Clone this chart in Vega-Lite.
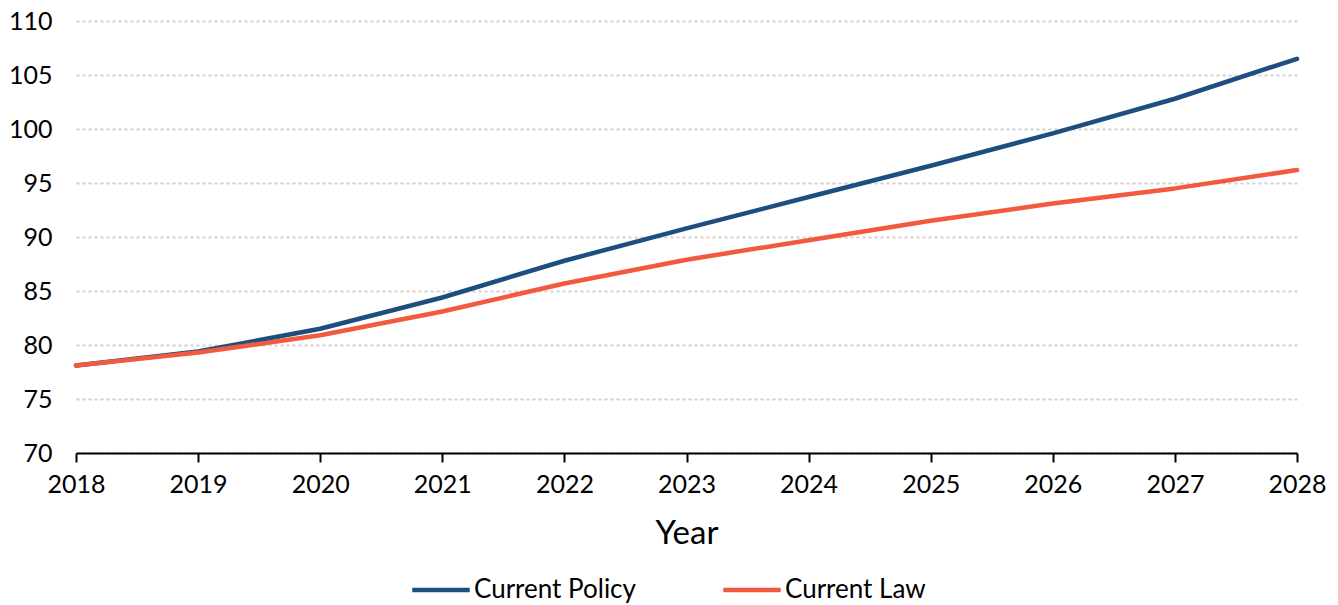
{
  "$schema": "https://vega.github.io/schema/vega-lite/v6.json",
  "autosize": {"type": "none"},
  "padding": {"left": 76, "top": 21, "right": 41, "bottom": 152},
  "width": 1221,
  "height": 432,
  "background": "white",
  "config": {
    "font": "Lato",
    "view": {"stroke": null}
  },
  "data": {
    "values": [
      {"year": 2018, "series": "Current Policy", "value": 78.1},
      {"year": 2019, "series": "Current Policy", "value": 79.4},
      {"year": 2020, "series": "Current Policy", "value": 81.5},
      {"year": 2021, "series": "Current Policy", "value": 84.4},
      {"year": 2022, "series": "Current Policy", "value": 87.8},
      {"year": 2023, "series": "Current Policy", "value": 90.8},
      {"year": 2024, "series": "Current Policy", "value": 93.7},
      {"year": 2025, "series": "Current Policy", "value": 96.6},
      {"year": 2026, "series": "Current Policy", "value": 99.6},
      {"year": 2027, "series": "Current Policy", "value": 102.8},
      {"year": 2028, "series": "Current Policy", "value": 106.5},
      {"year": 2018, "series": "Current Law", "value": 78.1},
      {"year": 2019, "series": "Current Law", "value": 79.3},
      {"year": 2020, "series": "Current Law", "value": 80.9},
      {"year": 2021, "series": "Current Law", "value": 83.1},
      {"year": 2022, "series": "Current Law", "value": 85.7},
      {"year": 2023, "series": "Current Law", "value": 87.9},
      {"year": 2024, "series": "Current Law", "value": 89.7},
      {"year": 2025, "series": "Current Law", "value": 91.5},
      {"year": 2026, "series": "Current Law", "value": 93.1},
      {"year": 2027, "series": "Current Law", "value": 94.5},
      {"year": 2028, "series": "Current Law", "value": 96.2}
    ]
  },
  "mark": {"type": "line", "strokeWidth": 4.5, "strokeCap": "round", "strokeJoin": "round"},
  "encoding": {
    "x": {
      "field": "year",
      "type": "quantitative",
      "scale": {"domain": [2018, 2028], "nice": false, "zero": false},
      "axis": {
        "title": "Year",
        "titleFontSize": 33,
        "titleFontWeight": "normal",
        "titleColor": "black",
        "titlePadding": 20,
        "values": [2018, 2019, 2020, 2021, 2022, 2023, 2024, 2025, 2026, 2027, 2028],
        "format": "d",
        "labelFontSize": 25,
        "labelColor": "black",
        "labelPadding": 10,
        "labelFlush": false,
        "labelOverlap": false,
        "domainColor": "black",
        "domainWidth": 2,
        "tickColor": "black",
        "tickWidth": 2,
        "tickSize": 9,
        "grid": false
      }
    },
    "y": {
      "field": "value",
      "type": "quantitative",
      "scale": {"domain": [70, 110], "nice": false, "zero": false},
      "axis": {
        "title": null,
        "values": [70, 75, 80, 85, 90, 95, 100, 105, 110],
        "labelFontSize": 25,
        "labelColor": "black",
        "labelPadding": 24,
        "domain": false,
        "ticks": false,
        "grid": true,
        "gridColor": "#d0d0d0",
        "gridWidth": 2,
        "gridDash": [3, 3]
      }
    },
    "color": {
      "field": "series",
      "type": "nominal",
      "sort": ["Current Policy", "Current Law"],
      "scale": {"domain": ["Current Policy", "Current Law"], "range": ["#1c4e7e", "#f2593f"]},
      "legend": {
        "title": null,
        "orient": "none",
        "direction": "horizontal",
        "legendX": 334,
        "legendY": 538,
        "symbolType": "stroke",
        "symbolSize": 3300,
        "symbolStrokeWidth": 4.5,
        "labelFontSize": 26,
        "labelLimit": 0,
        "labelColor": "black",
        "labelOffset": 2,
        "columnPadding": 78,
        "symbolOffset": 0
      }
    }
  }
}
